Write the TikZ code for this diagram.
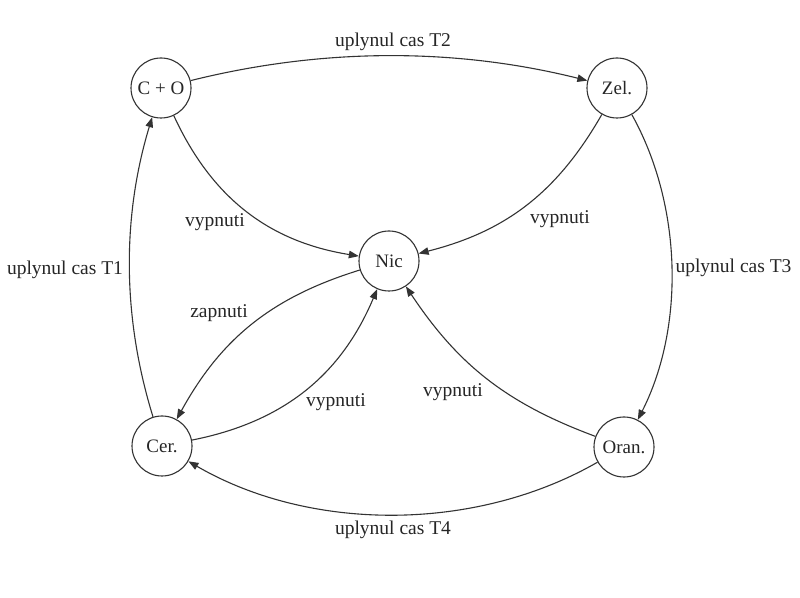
\documentclass[tikz,border=0pt]{standalone}
\usepackage{fontspec}
\setmainfont{Liberation Serif}
\usetikzlibrary{arrows.meta}
\begin{document}
\begin{tikzpicture}[x=1pt,y=1pt,
  state/.style={circle,draw=black!80,line width=1.1pt,minimum size=60pt,inner sep=0pt,font=\fontsize{19}{22}\selectfont,text=black!85},
  lbl/.style={font=\fontsize{19.5}{22}\selectfont,text=black!85,inner sep=0pt},
  conn/.style={draw=black!80,line width=1.1pt,-{Triangle[length=10pt,width=7.5pt]}}]
\useasboundingbox[fill=white] (0,0) rectangle (800,597);
\node[state] (co) at (161,509) {C + O};
\node[state] (zel) at (617,509) {Zel.};
\node[state] (nic) at (389,336) {Nic};
\node[state] (cer) at (162,151) {Cer.};
\node[state] (oran) at (624,150) {Oran.};
\draw[conn] (co) to[bend left=14,looseness=0.88] (zel);
\draw[conn] (co) to[bend right=28] (nic);
\draw[conn] (zel) to[bend left=23] (nic);
\draw[conn] (zel) to[bend left=28,looseness=0.87] (oran);
\draw[conn] (oran) to[bend left=30,looseness=0.88] (cer);
\draw[conn] (cer) to[bend left=17,looseness=0.89] (co);
\draw[conn] (nic) to[bend right=22] (cer);
\draw[conn] (cer) to[bend right=28] (nic);
\draw[conn] (oran) to[bend left=18] (nic);
\node[lbl] (l1) at (393,555) {uplynul cas T2};
\node[lbl] (l2) at (215,375) {vypnuti};
\node[lbl] (l3) at (560,378) {vypnuti};
\node[lbl] (l4) at (733.5,329) {uplynul cas T3};
\node[lbl] (l5) at (65,327) {uplynul cas T1};
\node[lbl] (l6) at (219,284) {zapnuti};
\node[lbl] (l7) at (336,195) {vypnuti};
\node[lbl] (l8) at (453,205) {vypnuti};
\node[lbl] (l9) at (393,67) {uplynul cas T4};
\end{tikzpicture}
\end{document}
